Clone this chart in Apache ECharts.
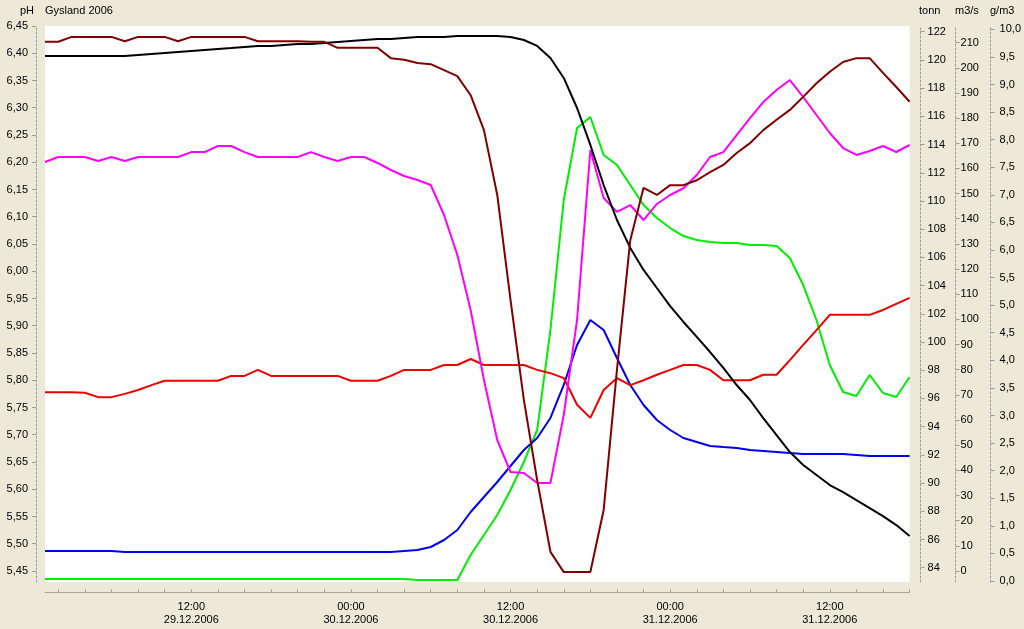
<!DOCTYPE html>
<html><head><meta charset="utf-8">
<script src="https://cdn.jsdelivr.net/npm/echarts@6/dist/echarts.min.js"></script>
<style>html,body{margin:0;padding:0;background:#ECE9D8}#c{width:1024px;height:629px}</style>
</head><body><div id="c"></div>
<script>
const hours = [
 "29.12.2006 01:00","29.12.2006 02:00","29.12.2006 03:00","29.12.2006 04:00","29.12.2006 05:00","29.12.2006 06:00",
 "29.12.2006 07:00","29.12.2006 08:00","29.12.2006 09:00","29.12.2006 10:00","29.12.2006 11:00","29.12.2006 12:00",
 "29.12.2006 13:00","29.12.2006 14:00","29.12.2006 15:00","29.12.2006 16:00","29.12.2006 17:00","29.12.2006 18:00",
 "29.12.2006 19:00","29.12.2006 20:00","29.12.2006 21:00","29.12.2006 22:00","29.12.2006 23:00","30.12.2006 00:00",
 "30.12.2006 01:00","30.12.2006 02:00","30.12.2006 03:00","30.12.2006 04:00","30.12.2006 05:00","30.12.2006 06:00",
 "30.12.2006 07:00","30.12.2006 08:00","30.12.2006 09:00","30.12.2006 10:00","30.12.2006 11:00","30.12.2006 12:00",
 "30.12.2006 13:00","30.12.2006 14:00","30.12.2006 15:00","30.12.2006 16:00","30.12.2006 17:00","30.12.2006 18:00",
 "30.12.2006 19:00","30.12.2006 20:00","30.12.2006 21:00","30.12.2006 22:00","30.12.2006 23:00","31.12.2006 00:00",
 "31.12.2006 01:00","31.12.2006 02:00","31.12.2006 03:00","31.12.2006 04:00","31.12.2006 05:00","31.12.2006 06:00",
 "31.12.2006 07:00","31.12.2006 08:00","31.12.2006 09:00","31.12.2006 10:00","31.12.2006 11:00","31.12.2006 12:00",
 "31.12.2006 13:00","31.12.2006 14:00","31.12.2006 15:00","31.12.2006 16:00","31.12.2006 17:00","31.12.2006 18:00"
];

// pH (left axis) - dark red station
const phDarkRed = [
 6.421,6.421,6.430,6.430,6.430,6.430,6.422,6.430,6.430,6.430,6.422,6.430,
 6.430,6.430,6.430,6.430,6.422,6.422,6.422,6.422,6.421,6.421,6.410,6.410,
 6.410,6.410,6.391,6.388,6.382,6.380,6.369,6.358,6.323,6.259,6.140,5.947,
 5.764,5.617,5.485,5.448,5.448,5.448,5.562,5.819,6.057,6.153,6.140,6.158,
 6.158,6.167,6.182,6.195,6.217,6.235,6.259,6.278,6.296,6.320,6.345,6.366,
 6.384,6.391,6.391,6.364,6.338,6.311
];
// pH (left axis) - red station
const phRed = [
 5.778,5.778,5.778,5.777,5.769,5.769,5.775,5.782,5.791,5.799,5.799,5.799,
 5.799,5.799,5.808,5.808,5.819,5.808,5.808,5.808,5.808,5.808,5.808,5.799,
 5.799,5.799,5.808,5.819,5.819,5.819,5.828,5.828,5.839,5.828,5.828,5.828,
 5.828,5.819,5.813,5.804,5.755,5.731,5.782,5.804,5.791,5.800,5.810,5.819,
 5.828,5.828,5.819,5.800,5.800,5.800,5.810,5.810,5.837,5.865,5.892,5.920,
 5.920,5.920,5.920,5.929,5.940,5.951
];
// tonn (1st right axis) - black
const tonnBlack = [
 120.28,120.28,120.28,120.28,120.28,120.28,120.28,120.35,120.42,120.49,120.56,120.63,
 120.70,120.77,120.84,120.92,120.99,120.99,121.06,121.13,121.13,121.20,121.27,121.34,
 121.41,121.48,121.48,121.55,121.62,121.62,121.62,121.70,121.70,121.70,121.70,121.62,
 121.41,120.99,120.14,118.72,116.59,113.97,111.13,108.65,106.67,105.11,103.83,102.55,
 101.42,100.36,99.29,98.16,96.95,95.89,94.61,93.40,92.20,91.28,90.57,89.86,
 89.36,88.79,88.23,87.66,87.02,86.24
];
// m3/s (2nd right axis) - blue
const flowBlue = [
 7.95,7.95,7.95,7.95,7.95,7.95,7.55,7.55,7.55,7.55,7.55,7.55,
 7.55,7.55,7.55,7.55,7.55,7.55,7.55,7.55,7.55,7.55,7.55,7.55,
 7.55,7.55,7.55,7.95,8.35,9.54,12.32,16.30,23.45,29.41,35.37,41.73,
 48.09,52.86,60.81,73.93,89.83,99.76,95.79,84.66,73.93,65.98,60.02,56.04,
 52.86,51.27,49.68,49.28,48.89,48.09,47.69,47.30,46.90,46.50,46.50,46.50,
 46.50,46.10,45.71,45.71,45.71,45.71
];
// g/m3 (3rd right axis) - green
const concGreen = [
 0.036,0.036,0.036,0.036,0.036,0.036,0.036,0.036,0.036,0.036,0.036,0.036,
 0.036,0.036,0.036,0.036,0.036,0.036,0.036,0.036,0.036,0.036,0.036,0.036,
 0.036,0.036,0.036,0.036,0.018,0.018,0.018,0.018,0.471,0.834,1.196,1.649,
 2.157,2.737,4.550,6.906,8.211,8.410,7.722,7.540,7.178,6.815,6.580,6.398,
 6.253,6.181,6.145,6.127,6.127,6.090,6.090,6.072,5.855,5.365,4.731,3.915,
 3.426,3.353,3.734,3.408,3.335,3.698
];
// g/m3 (3rd right axis) - magenta
const concMagenta = [
 7.595,7.685,7.685,7.685,7.613,7.685,7.613,7.685,7.685,7.685,7.685,7.775,
 7.775,7.885,7.885,7.775,7.685,7.685,7.685,7.685,7.775,7.685,7.613,7.685,
 7.685,7.577,7.450,7.341,7.269,7.178,6.634,5.909,4.912,3.643,2.556,1.976,
 1.958,1.776,1.776,3.009,4.731,7.812,6.942,6.690,6.815,6.543,6.834,6.997,
 7.119,7.359,7.685,7.775,8.084,8.392,8.682,8.900,9.081,8.773,8.447,8.120,
 7.848,7.722,7.794,7.885,7.776,7.903
];

const phTicks = [5.45,5.50,5.55,5.60,5.65,5.70,5.75,5.80,5.85,5.90,5.95,6.00,6.05,6.10,6.15,6.20,6.25,6.30,6.35,6.40,6.45];
const tonnTicks = [84,86,88,90,92,94,96,98,100,102,104,106,108,110,112,114,116,118,120,122];
const flowTicks = [0,10,20,30,40,50,60,70,80,90,100,110,120,130,140,150,160,170,180,190,200,210];
const concTicks = [0,0.5,1,1.5,2,2.5,3,3.5,4,4.5,5,5.5,6,6.5,7,7.5,8,8.5,9,9.5,10];

const FONT = 'Liberation Sans';
const axisGray = '#9c9a94';

function yAx(pos, offset, min, max, ticks, dec, margin) {
  return {
    type: 'value', position: pos, offset: offset, min: min, max: max,
    splitLine: {show: false},
    axisLine: {show: true, onZero: false, lineStyle: {color: axisGray, type: [2, 2], width: 1}},
    axisTick: {show: true, customValues: ticks, length: 4, lineStyle: {color: axisGray}},
    axisLabel: {
      customValues: ticks, margin: margin, color: '#000', fontSize: 11, fontFamily: FONT,
      formatter: v => v.toFixed(dec).replace('.', ',')
    }
  };
}

const chart = echarts.init(document.getElementById('c'));
chart.setOption({
  animation: false,
  backgroundColor: '#ECE9D8',
  textStyle: {fontFamily: FONT},
  title: [
    {text: 'pH', left: 20, top: 5, padding: 0, textStyle: {fontSize: 11, fontWeight: 'normal', color: '#000', fontFamily: FONT}},
    {text: 'Gysland 2006', left: 45, top: 5, padding: 0, textStyle: {fontSize: 11, fontWeight: 'normal', color: '#000', fontFamily: FONT}},
    {text: 'tonn', left: 919, top: 5, padding: 0, textStyle: {fontSize: 11, fontWeight: 'normal', color: '#000', fontFamily: FONT}},
    {text: 'm3/s', left: 955, top: 5, padding: 0, textStyle: {fontSize: 11, fontWeight: 'normal', color: '#000', fontFamily: FONT}},
    {text: 'g/m3', left: 990, top: 5, padding: 0, textStyle: {fontSize: 11, fontWeight: 'normal', color: '#000', fontFamily: FONT}}
  ],
  grid: {left: 45, right: 113, top: 26, bottom: 47, show: true, backgroundColor: '#ffffff', borderWidth: 0, containLabel: false},
  xAxis: {
    type: 'category', data: hours, boundaryGap: false, offset: 10,
    axisLine: {show: true, onZero: false, lineStyle: {color: '#a8a7a0', width: 1}},
    axisTick: {show: true, inside: true, length: 3, interval: (i) => i % 2 === 1, lineStyle: {color: '#a8a7a0'}},
    axisLabel: {
      interval: (i, v) => /(12|00):00$/.test(v),
      margin: 8, color: '#000', fontSize: 11, fontFamily: FONT, lineHeight: 13,
      formatter: v => { const p = v.split(' '); return p[1] + '\n' + p[0]; }
    },
    splitLine: {show: false}
  },
  yAxis: [
    yAx('left', 9, 5.4298, 6.45, phTicks, 2, 8),
    yAx('right', 11, 82.986, 122.404, tonnTicks, 0, 7),
    yAx('right', 46, -4.37, 216.6, flowTicks, 0, 5),
    yAx('right', 81, -0.018, 10.06, concTicks, 1, 9)
  ],
  series: [
    {name: 'g/m3 grønn', type: 'line', yAxisIndex: 3, data: concGreen, symbol: 'none', lineStyle: {color: '#00ee00', width: 2}},
    {name: 'm3/s', type: 'line', yAxisIndex: 2, data: flowBlue, symbol: 'none', lineStyle: {color: '#0000ee', width: 2}},
    {name: 'pH rød', type: 'line', yAxisIndex: 0, data: phRed, symbol: 'none', lineStyle: {color: '#ee0000', width: 2}},
    {name: 'g/m3 lilla', type: 'line', yAxisIndex: 3, data: concMagenta, symbol: 'none', lineStyle: {color: '#ff00ff', width: 2}},
    {name: 'tonn', type: 'line', yAxisIndex: 1, data: tonnBlack, symbol: 'none', lineStyle: {color: '#000000', width: 2}},
    {name: 'pH', type: 'line', yAxisIndex: 0, data: phDarkRed, symbol: 'none', lineStyle: {color: '#800000', width: 2}}
  ]
});
</script>
</body></html>
